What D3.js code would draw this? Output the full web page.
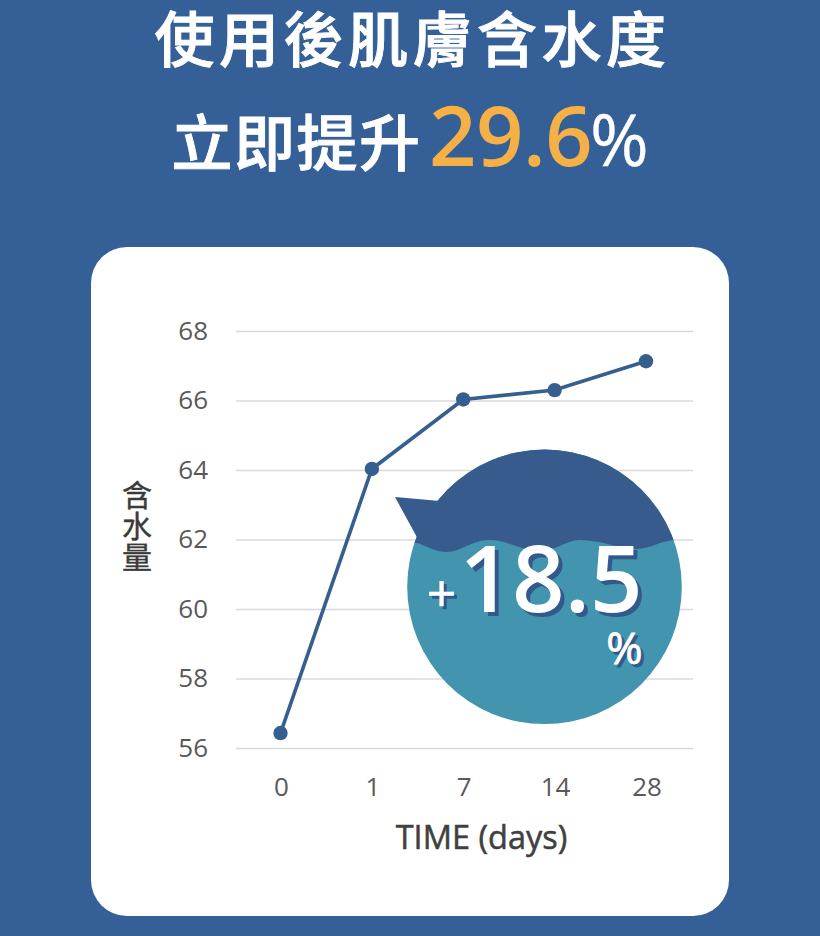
<!DOCTYPE html>
<html><head><meta charset="utf-8">
<script src="https://cdn.jsdelivr.net/npm/d3@7"></script>
<style>html,body{margin:0;padding:0;background:#355f97}svg{display:block}</style>
</head><body><svg id="c" width="820" height="936"></svg>
<script>
const categories = ["0","1","7","14","28"];
const moisture = [56.43,64.03,66.03,66.3,67.13];
const yTicks = [56,58,60,62,64,66,68];
const titleLine1 = "使用後肌膚含水度";
const titleLine2 = "立即提升";
const headline = "29.6";
const gain = "18.5";
const CJK = '"Noto Sans CJK TC","Noto Sans CJK SC",sans-serif';
const LAT = '"Open Sans","Noto Sans",sans-serif';
const svg = d3.select("#c");
svg.append("rect").attr("width",820).attr("height",936).attr("fill","#355f97");
svg.append("rect").attr("x",91).attr("y",247).attr("width",638).attr("height",669).attr("rx",36).attr("fill","#fff");

svg.append("text").attr("x",412.5).attr("y",62).attr("text-anchor","middle")
  .attr("font-family",CJK).attr("font-size",60).attr("font-weight",500).attr("stroke","#fff").attr("stroke-width",0.9).attr("letter-spacing",4.5).attr("fill","#fff").text(titleLine1);
svg.append("text").attr("x",171.5).attr("y",166).attr("font-family",CJK).attr("font-size",61).attr("font-weight",500).attr("stroke","#fff").attr("stroke-width",0.9).attr("letter-spacing",1.5).attr("fill","#fff").text(titleLine2);
svg.append("text").attr("x",429).attr("y",166).attr("font-family",LAT).attr("font-size",83).attr("font-weight",600).attr("letter-spacing",-0.5).attr("fill","#f5b145").text(headline);
svg.append("text").attr("x",590).attr("y",166).attr("font-family",LAT).attr("font-size",71).attr("font-weight",400).attr("stroke","#fff").attr("stroke-width",0.3).attr("fill","#fff").text("%");

const x = d3.scalePoint().domain(categories).range([280.5,646]);
const y = d3.scaleLinear().domain([56,68]).range([748,331]);

const gridG = svg.append("g")
  .call(d3.axisLeft(y).tickValues(yTicks).tickSize(0).tickPadding(0));
gridG.select(".domain").remove();
gridG.selectAll("text").remove();
gridG.selectAll(".tick line").attr("x1",236).attr("x2",693).attr("stroke","#d9d9df").attr("stroke-width",1.6);

svg.append("g").selectAll("text").data(yTicks).join("text")
  .attr("x",208).attr("y",d=>y(d)+8.5).attr("text-anchor","end")
  .attr("font-family",LAT).attr("font-size",26).attr("fill","#595959").text(d=>d);
svg.append("g").selectAll("text").data(categories).join("text")
  .attr("x",d=>x(d)+1).attr("y",796).attr("text-anchor","middle")
  .attr("font-family",LAT).attr("font-size",26).attr("fill","#595959").text(d=>d);

svg.append("text").attr("x",481.5).attr("y",848.5).attr("text-anchor","middle")
  .attr("font-family",LAT).attr("font-size",32.5).attr("font-weight",400).attr("stroke","#404040").attr("stroke-width",0.5).attr("fill","#404040").text("TIME (days)");
["含","水","量"].forEach((c,i)=>svg.append("text").attr("x",137).attr("y",505.5+i*31).attr("text-anchor","middle")
  .attr("font-family",CJK).attr("font-size",30).attr("font-weight",400).attr("stroke","#3a3a3a").attr("stroke-width",0.4).attr("fill","#3a3a3a").text(c));

const line = d3.line().x((d,i)=>x(categories[i])).y(d=>y(d));
svg.append("path").datum(moisture).attr("d",line).attr("fill","none").attr("stroke","#355f8f").attr("stroke-width",3.6);
svg.append("g").selectAll("circle").data(moisture).join("circle")
  .attr("cx",(d,i)=>x(categories[i])).attr("cy",d=>y(d)).attr("r",7.2).attr("fill","#355f8f");

// callout bubble
const cx=544.5, cy=586.8, r=137.3;
const defs = svg.append("defs");
const wave = "M417,543 C428,546 435,552 447,552 C460,552 472,540 490,540 C508,540 520,551 540,551 C556,551 566,540 580,540 C602,540 618,549 637,549 C650,549 662,540 676,540";
defs.append("clipPath").attr("id","upper").append("path")
  .attr("d", wave+" L700,540 L700,430 L390,430 L390,543 Z");
svg.append("circle").attr("cx",cx).attr("cy",cy).attr("r",r).attr("fill","#4394ae");
svg.append("circle").attr("cx",cx).attr("cy",cy).attr("r",r).attr("fill","#375b8c").attr("clip-path","url(#upper)");
svg.append("path").attr("d","M395,497 L440,501 L470,510 L425,552 Z").attr("fill","#375b8c").attr("clip-path","url(#upper)");

function shadowText(txt,xx,yy,size,w,off,sw){
  [["#33588c",off],["#fff",0]].forEach(([f,o])=>svg.append("text").attr("x",xx+o).attr("y",yy+o)
    .attr("text-anchor","middle").attr("font-family",LAT).attr("font-size",size).attr("font-weight",w)
    .attr("stroke",f).attr("stroke-width",sw).attr("fill",f).text(txt));
}
shadowText("+",441.5,612,52,400,3,0.5);
shadowText(gain,551,612,92,600,4,0);
shadowText("%",624.5,664,44,400,3,0.8);
</script></body></html>
